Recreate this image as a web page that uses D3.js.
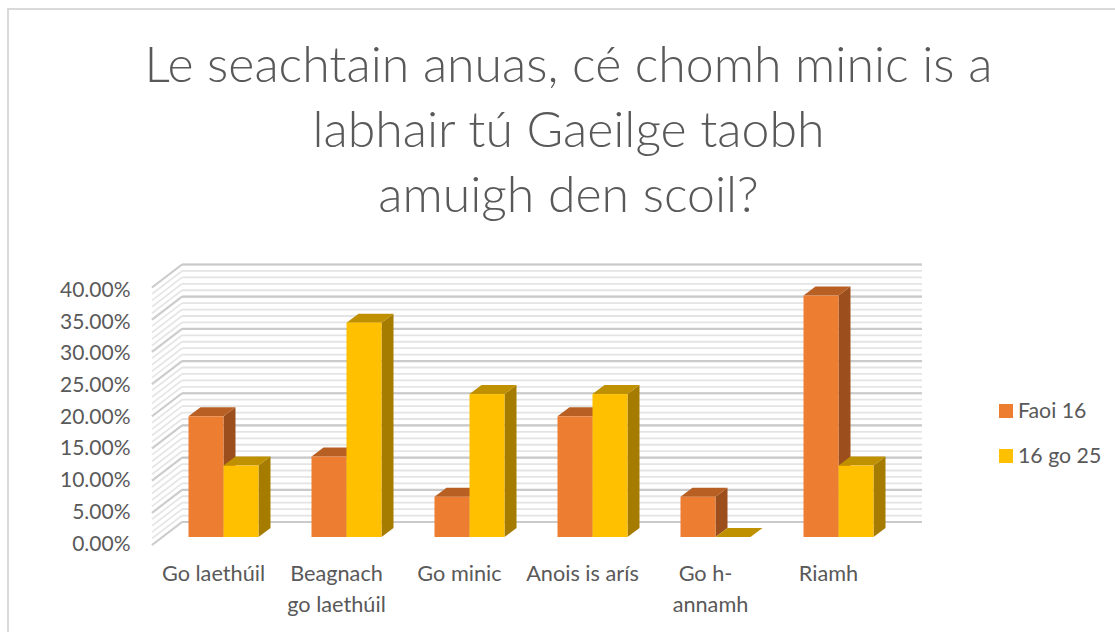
<!DOCTYPE html>
<html><head><meta charset="utf-8">
<script src="https://cdn.jsdelivr.net/npm/d3@7/dist/d3.min.js"></script>
<style>html,body{margin:0;padding:0;background:#fff}svg{display:block}text{font-family:Lato,"Noto Sans",sans-serif}</style>
</head><body><svg id="c" width="1115" height="632"></svg>
<script>
const titleLines = ["Le seachtain anuas, cé chomh minic is a","labhair tú Gaeilge taobh","amuigh den scoil?"];
const categories = ["Go laethúil","Beagnach go laethúil","Go minic","Anois is arís","Go h-annamh","Riamh"];
const categoryLines = [["Go laethúil"],["Beagnach","go laethúil"],["Go minic"],["Anois is arís"],["Go h-","annamh"],["Riamh"]];
const seriesNames = ["Faoi 16","16 go 25"];
const faoi16 = [18.75,12.5,6.25,18.75,6.25,37.5];
const go25 = [11.1,33.3,22.2,22.2,0,11.1];
const seriesValues = [faoi16,go25];
const majorTicks = [0,5,10,15,20,25,30,35,40];
const minorTicks = d3.range(0,40.01,1);
const colors = [{front:"#ED7D31",top:"#B85F24",side:"#9C4F1C"},{front:"#FFC000",top:"#BF9000",side:"#A67C00"}];

const svg = d3.select("#c");
const blur = svg.append("defs").append("filter").attr("id","soft");
blur.append("feGaussianBlur").attr("stdDeviation",0.45);
svg.append("rect").attr("x",8).attr("y",9).attr("width",1120).attr("height",640).attr("fill","#fff").attr("stroke","#d9d9d9").attr("stroke-width",2);

svg.append("g").selectAll("text").data(titleLines).join("text")
 .attr("x",568.5).attr("y",(d,i)=>[82,147,212][i]).attr("text-anchor","middle")
 .attr("font-size",50).attr("font-weight",300).attr("fill","#595959").text(d=>d);

const y = d3.scaleLinear().domain([0,40]).range([545,287.5]);
const yLabel = d3.scaleLinear().domain([0,40]).range([541.5,288]);
const x = d3.scaleBand().domain(categories).range([152,890]);
const wallD = {x:30,y:-23}, barD = {x:12,y:-9}, barOff = {x:10,y:-8};
const wallRight = 892;
const barW = 35;

const grid = svg.append("g").attr("filter","url(#soft)");
function drawLines(ticks,sideColor,backColor,w){
  ticks.forEach(t=>{
    const py=y(t);
    grid.append("path").attr("d",`M${152},${py}L${152+wallD.x},${py+wallD.y}`)
     .attr("fill","none").attr("stroke",sideColor).attr("stroke-width",w);
    grid.append("path").attr("d",`M${152+wallD.x},${py+wallD.y}L${wallRight+wallD.x},${py+wallD.y}`)
     .attr("fill","none").attr("stroke",backColor).attr("stroke-width",w);
  });
}
drawLines(minorTicks,"#e6e6e6","#e4e4e4",1.8);
drawLines(majorTicks,"#cdcdcd","#cacaca",2.2);

const g = svg.append("g");
categories.forEach((c,ci)=>{
  const bx = x(c)+x.bandwidth()/2+barOff.x-barW;
  seriesValues.forEach((vals,si)=>{
    const x0=bx+si*barW, x1=x0+barW, yb=y(0)+barOff.y, yt=y(vals[ci])+barOff.y;
    const col=colors[si];
    const bar=g.append("g");
    bar.append("path").attr("fill",col.side).attr("d",`M${x1},${yt}L${x1+barD.x},${yt+barD.y}L${x1+barD.x},${yb+barD.y}L${x1},${yb}Z`);
    bar.append("path").attr("fill",col.top).attr("d",`M${x0},${yt}L${x0+barD.x},${yt+barD.y}L${x1+barD.x},${yt+barD.y}L${x1},${yt}Z`);
    bar.append("rect").attr("x",x0).attr("y",yt).attr("width",barW).attr("height",yb-yt).attr("fill",col.front);
  });
});

const yAxis = svg.append("g").attr("transform","translate(130.5,0)").call(d3.axisLeft(yLabel).tickValues(majorTicks).tickSize(0).tickPadding(0).tickFormat(d=>d3.format(".2f")(d)+"%"));
yAxis.select(".domain").remove();
yAxis.selectAll("text").attr("font-size",21).attr("fill","#595959").attr("dy",0).attr("dominant-baseline","central").style("font-family","Lato");

const xl = svg.append("g");
categories.forEach((c,i)=>{
  categoryLines[i].forEach((l,j)=>{
    xl.append("text").attr("x",x(c)+x.bandwidth()/2+(l==="annamh"?5:0)).attr("y",581+j*30.5).attr("text-anchor","middle").attr("font-size",21.7).attr("fill","#595959").text(l);
  });
});

const legendY = d3.scalePoint().domain(seriesNames).range([411,456]);
seriesNames.forEach((n,i)=>{
  svg.append("rect").attr("x",999).attr("y",legendY(n)-7).attr("width",14).attr("height",14).attr("fill",colors[i].front);
  svg.append("text").attr("x",1018).attr("y",legendY(n)+7).attr("font-size",21.3).attr("fill","#595959").text(n);
});
</script></body></html>
